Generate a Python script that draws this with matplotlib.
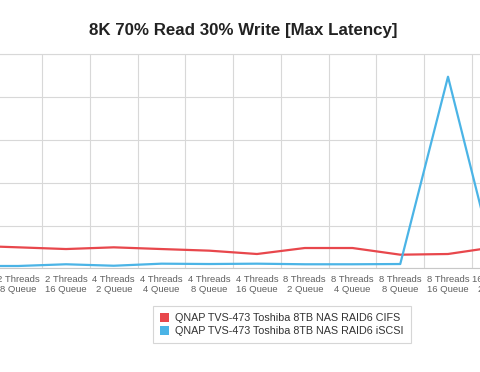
import matplotlib
matplotlib.use("Agg")
import matplotlib.pyplot as plt
from matplotlib.patches import Patch

plt.rcParams['font.family'] = ['Liberation Sans', 'DejaVu Sans']

categories = [
    "2 Threads\n4 Queue", "2 Threads\n8 Queue", "2 Threads\n16 Queue",
    "4 Threads\n2 Queue", "4 Threads\n4 Queue", "4 Threads\n8 Queue",
    "4 Threads\n16 Queue", "8 Threads\n2 Queue", "8 Threads\n4 Queue",
    "8 Threads\n8 Queue", "8 Threads\n16 Queue", "16 Threads\n2 Queue",
]
cifs = [26.4, 24.5, 22.5, 24.5, 22.5, 20.6, 16.7, 23.7, 23.7, 15.9, 16.7, 24.9]
iscsi = [2.7, 2.7, 4.7, 3.0, 5.4, 5.0, 5.4, 4.7, 4.7, 5.0, 223.8, 1.5]
series_names = ["QNAP TVS-473 Toshiba 8TB NAS RAID6 CIFS",
                "QNAP TVS-473 Toshiba 8TB NAS RAID6 iSCSI"]
colors = ["#E8474C", "#4BB4E6"]
title = "8K 70% Read 30% Write [Max Latency]"

W, H = 480, 372
fig = plt.figure(figsize=(W / 100, H / 100), dpi=100)

# pixel geometry: category centres spaced dx apart
dx = 47.75
x0 = 18.25 - dx  # index 0 = off-screen "2 Threads 4 Queue"
n = len(categories)
left_px = x0 - 0.5 * dx
right_px = x0 + (n - 0.5) * dx
bottom_px, top_px = 268.3, 54.3
ax = fig.add_axes([left_px / W, 1 - bottom_px / H,
                   (right_px - left_px) / W, (bottom_px - top_px) / H])

xs = list(range(n))
ax.plot(xs, cifs, color=colors[0], lw=1.6, solid_joinstyle='round', zorder=3)
ax.plot(xs, iscsi, color=colors[1], lw=1.6, solid_joinstyle='round', zorder=3)

ax.set_xlim(-0.5, n - 0.5)
ax.set_ylim(0, 250)
ax.set_yticks([0, 50, 100, 150, 200, 250])
ax.set_yticklabels([])
ax.tick_params(axis='y', length=0)
ax.set_xticks(xs)
ax.set_xticklabels(categories, fontsize=6.8, color='#606060', linespacing=1.2)
ax.set_xticks([i + 0.5 for i in range(-1, n)], minor=True)
ax.tick_params(axis='x', which='both', length=0, pad=4.5)
ax.grid(True, axis='y', which='major', color='#d8d8d8', lw=0.8)
ax.grid(True, axis='x', which='minor', color='#d8d8d8', lw=0.8)
for s in ['left', 'right']:
    ax.spines[s].set_visible(False)
ax.spines['top'].set_color('#d8d8d8')
ax.spines['top'].set_linewidth(0.8)
ax.spines['bottom'].set_color('#c8c8c8')
ax.spines['bottom'].set_linewidth(0.8)
ax.set_axisbelow(True)

fig.text(243.7 / W, 1 - 30.7 / H, title, ha='center', va='center',
         fontsize=12.2, fontweight='bold', color='#222222')

handles = [Patch(facecolor=c, edgecolor='none') for c in colors]
leg = fig.legend(handles, series_names, loc='upper left',
                 bbox_to_anchor=(152.7 / W, 1 - 306 / H), borderaxespad=0,
                 fontsize=7.74, frameon=True, fancybox=False,
                 handlelength=0.85, handleheight=0.85, handletextpad=0.6,
                 borderpad=0.65, labelspacing=0.32)
leg.get_frame().set_edgecolor('#cccccc')
leg.get_frame().set_linewidth(0.8)
for t in leg.get_texts():
    t.set_color('#333333')

fig.savefig("out.png", dpi=100)
